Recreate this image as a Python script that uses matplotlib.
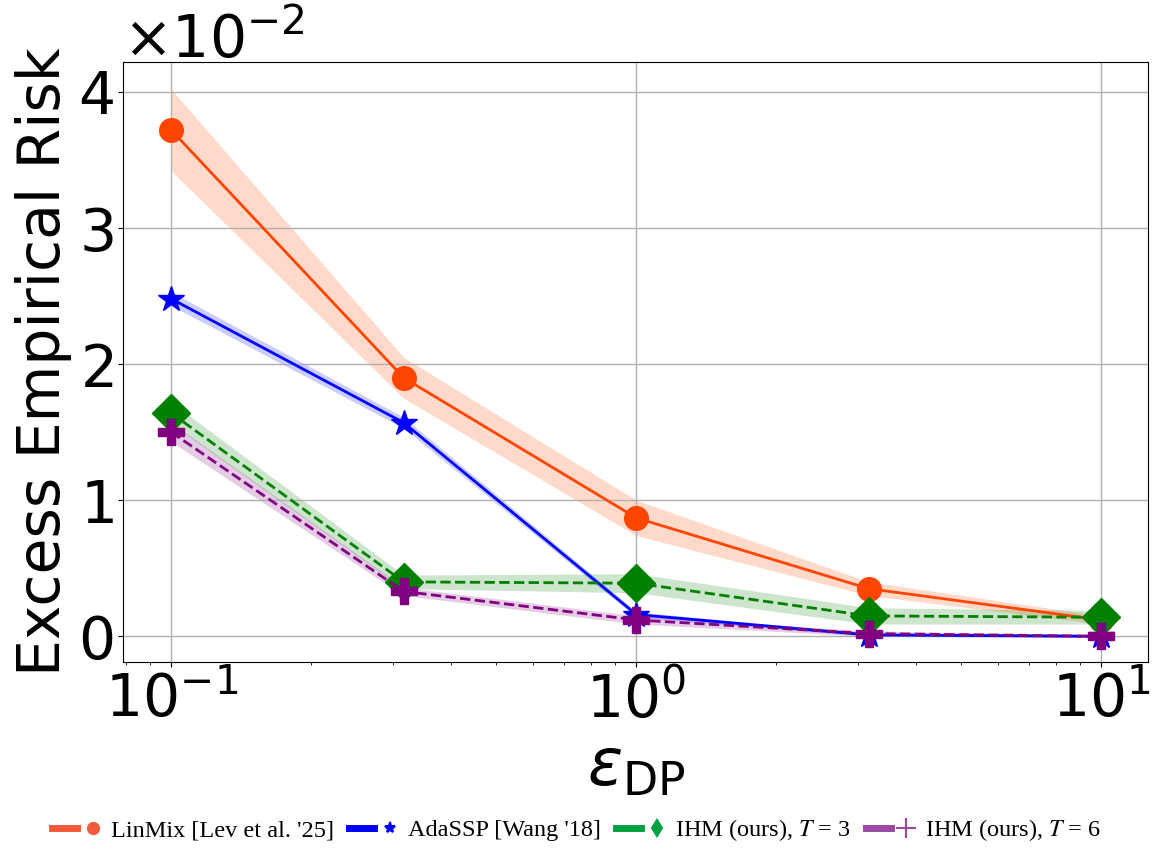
import numpy as np
import matplotlib
matplotlib.use("Agg")
import matplotlib.pyplot as plt
from matplotlib.lines import Line2D
from matplotlib.legend_handler import HandlerTuple
from matplotlib.font_manager import FontProperties
from matplotlib.ticker import ScalarFormatter

# privacy budgets
eps = [0.1, 0.316, 1.0, 3.16, 10.0]

# excess empirical risk (x 1e-2) and band half-widths
linmix = [3.72, 1.90, 0.87, 0.35, 0.12]
linmix_err = [0.30, 0.15, 0.13, 0.05, 0.03]
adassp = [2.48, 1.57, 0.16, 0.01, 0.0]
adassp_err = [0.05, 0.04, 0.02, 0.01, 0.005]
ihm3 = [1.64, 0.40, 0.39, 0.15, 0.14]
ihm3_err = [0.08, 0.05, 0.07, 0.06, 0.05]
ihm6 = [1.50, 0.33, 0.12, 0.02, 0.0]
ihm6_err = [0.07, 0.03, 0.03, 0.02, 0.01]

labels = ["LinMix [Lev et al. '25]", "AdaSSP [Wang '18]",
          r"IHM (ours), $T$ = 3", r"IHM (ours), $T$ = 6"]

fig = plt.figure(figsize=(11.53, 8.5), dpi=100)
ax = fig.add_axes([0.107, 0.221, 0.889, 0.706])

x = np.array(eps)
series = [
    (linmix, linmix_err, 'orangered', 'lightsalmon', 'o', '-', 17),
    (adassp, adassp_err, 'blue', 'blue', '*', '-', 19),
    (ihm3, ihm3_err, 'green', 'green', 'D', '--', 19),
    (ihm6, ihm6_err, 'purple', 'purple', 'P', '--', 19),
]
for vals, err, c, fc, m, ls, ms in series:
    y = np.array(vals) * 1e-2
    e = np.array(err) * 1e-2
    ax.fill_between(x, y - e, y + e, color=fc, alpha=0.4 if c == 'orangered' else 0.2, lw=0)
    ax.plot(x, y, color=c, marker=m, ls=ls, lw=2, ms=ms)

ax.set_xscale('log')
ax.set_ylim(-0.19e-2, 4.22e-2)
ax.set_xlim(10**-1.103, 10**1.101)
ax.grid(True, which='major', color='#b0b0b0', lw=1)

fmt = ScalarFormatter(useMathText=True)
fmt.set_powerlimits((0, 0))
ax.yaxis.set_major_formatter(fmt)
ax.yaxis.get_offset_text().set_fontsize(42)
ax.tick_params(labelsize=42)
ax.set_ylabel('Excess Empirical Risk', fontsize=42, labelpad=4)
ax.set_xlabel(r'$\varepsilon_{\mathrm{DP}}$', fontsize=47, labelpad=4)

# legend: short thick line, then small marker
leg_cols = ['#f05a3a', '#0000ff', '#00a040', '#9a4aa0']
leg_marks = ['o', '*', 'd', '+']
handles = []
for c, m in zip(leg_cols, leg_marks):
    ln = Line2D([], [], color=c, lw=5)
    mk = Line2D([], [], color=c, marker=m, ls='none', ms=8 if m != '+' else 14, mew=1.5)
    handles.append((ln, mk))
prop = FontProperties(family='Liberation Serif', size=17.5, math_fontfamily='stix')
fig.legend(handles, labels, handler_map={tuple: HandlerTuple(ndivide=2, pad=0.1)},
           loc='lower center', bbox_to_anchor=(0.5, -0.018), ncol=4, frameon=False,
           prop=prop, handlelength=2.2, columnspacing=0.6, handletextpad=0.25)

fig.savefig('out.png', dpi=100)
